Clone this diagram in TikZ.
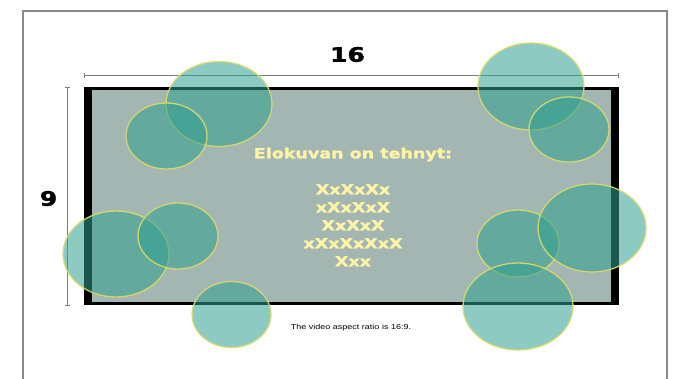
\documentclass[tikz,border=0pt]{standalone}
\usepackage{fontspec}
\usepackage{graphicx}
\usetikzlibrary{arrows.meta,positioning}
\setmainfont{Liberation Sans}
\newfontfamily\heavyfont{DejaVu Sans Bold}[FakeBold=1.6]
\definecolor{screenGray}{HTML}{A3B6B1}
\definecolor{bubbleTeal}{HTML}{309F90}
\definecolor{bubbleRim}{HTML}{DADB6C}
\definecolor{creditYellow}{HTML}{FFF3A6}
\definecolor{frameGray}{HTML}{8A8A8A}
\definecolor{dimGray}{HTML}{7E7E7E}
\newcommand{\wide}[1]{\scalebox{1.25}[1]{#1}}

\begin{document}
\begin{tikzpicture}[x=1pt,y=-1pt,
    bubble/.style={fill=bubbleTeal,fill opacity=0.55,draw=bubbleRim,
      draw opacity=0.9,line width=1.3pt},
    dimLine/.style={draw=dimGray,line width=0.7pt,
      {Bar[width=5pt]}-{Bar[width=5pt]}},
    dimLabel/.style={font=\heavyfont\fontsize{20}{22}\selectfont,inner sep=0pt}]
  \useasboundingbox (0,0) rectangle (673,379);
  % page frame
  \draw[frameGray,line width=2pt] (23,379) -- (23,11) -- (667,11) -- (667,379);
  % screen
  \fill[black] (83.5,86.7) rectangle (618.5,305.5);
  \fill[screenGray] (92,90) rectangle (611,302);
  % dimensions
  \coordinate (hdimL) at (83.5,75.5);
  \coordinate (hdimR) at (618.5,75.5);
  \coordinate (vdimT) at (67,87.5);
  \coordinate (vdimB) at (67,305.5);
  \draw[dimLine] (hdimL) -- (hdimR);
  \draw[dimLine] (vdimT) -- (vdimB);
  \node[dimLabel] (widthLabel) at (347.5,54.5) {\wide{16}};
  \node[dimLabel] (heightLabel) at (48.5,198.5) {\wide{9}};
  % bubbles
  \foreach \cx/\cy/\rx/\ry in {219/104/53/42.5, 166.5/136/40.5/33,
      531/86.5/53/43.5, 569/129.5/40/32.5,
      116/254/53/43, 178/236/40/33, 231.5/314.5/39.5/33,
      518/243.5/41/33.5, 592/228/54/44, 518/306.5/55/43.5}
    \draw[bubble] (\cx,\cy) ellipse [x radius=\rx, y radius=\ry];
  % credits
  \node[align=center,inner sep=0pt,text=creditYellow,
    font=\heavyfont\fontsize{14}{18}\selectfont] (credits) at (353,207) {
    \wide{Elokuvan on tehnyt:}\\[18pt]
    \wide{XxXxXx}\\
    \wide{xXxXxX}\\
    \wide{XxXxX}\\
    \wide{xXxXxXxX}\\
    \wide{Xxx}
  };
  \node[font=\fontsize{7.2}{9}\selectfont,inner sep=0pt] (caption) at (351,328)
    {\wide{The video aspect ratio is 16:9.}};
\end{tikzpicture}
\end{document}
